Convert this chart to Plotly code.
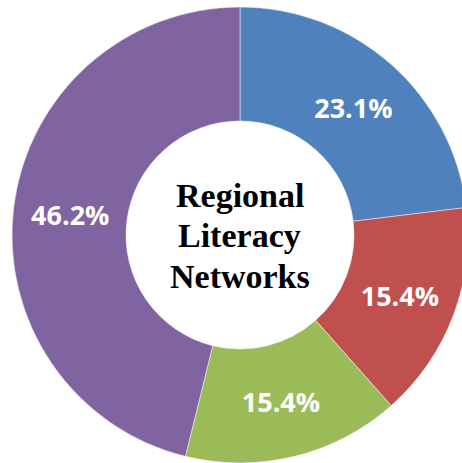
import plotly.graph_objects as go

categories = ["Segment A", "Segment B", "Segment C", "Segment D"]
values = [23.1, 15.4, 15.4, 46.2]
colors = ["#4F81BD", "#C0504D", "#9BBB59", "#8064A2"]
center_lines = ["Regional", "Literacy", "Networks"]

W, H = 470, 470
cx, cy, r = 240, 235, 228
line_centers = [196, 236, 276]

fig = go.Figure(go.Pie(
    labels=categories,
    values=values,
    sort=False,
    direction="clockwise",
    rotation=0,
    hole=0.5,
    marker=dict(colors=colors, line=dict(color="rgba(255,255,255,0.6)", width=0.8)),
    texttemplate="%{percent:.1%}",
    textposition="inside",
    insidetextorientation="horizontal",
    textfont=dict(family="Open Sans", size=27, color="white", weight="bold"),
    domain=dict(x=[(cx - r) / W, (cx + r) / W], y=[(H - cy - r) / H, (H - cy + r) / H]),
    showlegend=False,
    hoverinfo="skip",
))

for txt, ly in zip(center_lines, line_centers):
    fig.add_annotation(
        x=cx / W, y=1 - ly / H, xref="paper", yref="paper",
        text="<b>" + txt + "</b>", showarrow=False,
        font=dict(family="Liberation Serif", size=34, color="black"),
        xanchor="center", yanchor="middle",
    )

fig.update_layout(
    width=W, height=H, autosize=False,
    margin=dict(l=0, r=0, t=0, b=0),
    paper_bgcolor="white", plot_bgcolor="white",
)

fig.write_html(
    "out.html",
    config={"displayModeBar": False},
    post_script="document.body.style.margin='0';document.body.style.overflow='hidden';document.documentElement.style.overflow='hidden';",
)
